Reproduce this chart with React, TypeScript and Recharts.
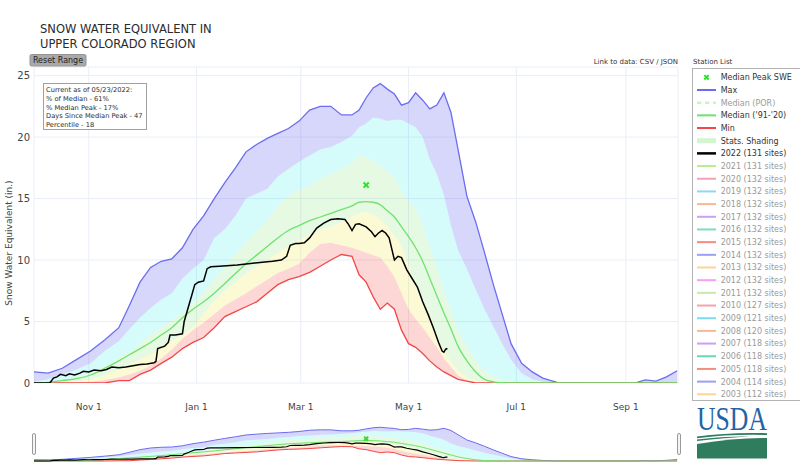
import React from 'react';
import { ComposedChart, Area, Line, Scatter, XAxis, YAxis, CartesianGrid } from 'recharts';

// day of water year (0 = Oct 1)
const days = [0, 8, 16, 24, 32, 40, 48, 54, 60, 66, 72, 78, 84, 90, 96, 102, 108, 114, 120, 126, 132, 138, 144, 150, 156, 162, 168, 174, 180, 184, 188, 192, 196, 200, 204, 208, 212, 216, 220, 224, 228, 232, 236, 240, 245, 250, 255, 260, 265, 270, 276, 282, 288, 296, 310, 325, 340, 346, 352, 358, 364];
const maxSwe = [0.9, 0.8, 1.2, 1.9, 2.6, 3.5, 4.5, 6.3, 8.2, 9.4, 9.9, 10.1, 11.0, 12.5, 13.6, 15.0, 16.3, 17.5, 18.8, 19.4, 19.9, 20.3, 20.7, 21.3, 22.2, 22.5, 22.5, 21.8, 21.8, 22.2, 23.2, 24.0, 24.35, 23.9, 23.5, 22.6, 22.8, 23.6, 23.0, 22.3, 22.6, 23.6, 22.0, 19.0, 15.2, 13.1, 10.6, 8.0, 5.6, 3.2, 1.6, 0.9, 0.4, 0.05, 0, 0, 0, 0.25, 0.15, 0.5, 1.0];
const p90 = [0.1, 0.3, 0.7, 1.1, 1.6, 2.6, 3.4, 4.4, 5.3, 6.1, 6.8, 7.3, 8.5, 9.3, 10.0, 11.8, 12.5, 13.6, 15.0, 15.4, 15.8, 16.8, 17.4, 18.0, 18.5, 19.0, 19.2, 19.6, 20.1, 20.8, 21.1, 21.6, 21.5, 21.3, 21.4, 21.4, 21.1, 20.8, 20.0, 18.2, 17.0, 15.3, 12.8, 10.8, 9.3, 7.6, 6.0, 4.6, 3.2, 1.9, 0.8, 0.3, 0.1, 0, 0, 0, 0, 0, 0, 0, 0];
const p70 = [0, 0.05, 0.2, 0.5, 0.8, 1.3, 2.0, 2.5, 3.2, 3.9, 4.5, 5.1, 5.7, 6.5, 7.4, 8.4, 9.5, 10.5, 11.4, 12.3, 13.2, 14.4, 15.2, 15.7, 16.0, 16.6, 17.0, 17.4, 17.9, 18.5, 18.4, 18.0, 17.7, 17.2, 16.7, 15.6, 14.8, 14.2, 12.8, 11.0, 9.4, 7.5, 5.9, 4.3, 3.0, 1.8, 1.0, 0.5, 0.25, 0.1, 0, 0, 0, 0, 0, 0, 0, 0, 0, 0, 0];
const medianSwe = [0, 0.05, 0.2, 0.35, 0.65, 1.2, 1.8, 2.3, 2.8, 3.3, 3.9, 4.5, 5.3, 6.0, 6.6, 7.3, 8.1, 8.9, 9.7, 10.4, 11.1, 11.8, 12.4, 12.8, 13.2, 13.5, 13.8, 14.1, 14.4, 14.7, 14.75, 14.7, 14.5, 14.0, 13.5, 12.7, 11.9, 11.0, 9.9, 8.5, 7.1, 5.7, 4.4, 3.0, 1.8, 0.9, 0.3, 0.1, 0.03, 0, 0, 0, 0, 0, 0, 0, 0, 0, 0, 0, 0];
const p30 = [0, 0, 0.05, 0.15, 0.3, 0.6, 1.1, 1.5, 1.9, 2.3, 2.9, 3.4, 3.9, 4.6, 5.6, 6.7, 7.5, 8.2, 8.9, 9.5, 10.0, 10.6, 11.1, 11.6, 12.1, 12.5, 12.7, 13.1, 13.5, 13.8, 13.9, 13.7, 13.3, 12.7, 12.0, 11.1, 9.6, 7.8, 6.6, 5.1, 3.8, 2.6, 1.7, 1.0, 0.4, 0.15, 0.05, 0, 0, 0, 0, 0, 0, 0, 0, 0, 0, 0, 0, 0, 0];
const p10 = [0, 0, 0, 0.02, 0.1, 0.25, 0.45, 0.7, 1.0, 1.4, 2.0, 2.7, 3.6, 4.3, 4.9, 5.6, 6.3, 6.8, 7.3, 7.85, 8.4, 8.95, 9.3, 9.7, 10.6, 11.3, 11.4, 11.2, 11.0, 10.8, 10.6, 10.4, 10.2, 9.5, 8.6, 7.3, 6.0, 5.2, 4.5, 3.7, 2.9, 2.0, 1.3, 0.6, 0.2, 0.05, 0, 0, 0, 0, 0, 0, 0, 0, 0, 0, 0, 0, 0, 0, 0];
const minSwe = [0, 0, 0, 0, 0, 0, 0.2, 0.2, 0.7, 1.05, 1.6, 2.1, 2.8, 3.3, 3.7, 4.5, 5.4, 5.8, 6.2, 6.6, 7.3, 8.0, 8.4, 8.65, 9.0, 9.5, 10.0, 10.45, 10.3, 8.8, 8.2, 7.0, 6.0, 6.5, 6.0, 4.3, 3.2, 2.9, 2.4, 1.8, 1.3, 0.9, 0.6, 0.3, 0.15, 0, 0, 0, 0, 0, 0, 0, 0, 0, 0, 0, 0, 0, 0, 0, 0];

const days2022 = [0, 9, 11, 13, 15, 18, 20, 23, 26, 28, 31, 34, 38, 41, 44, 48, 52, 56, 60, 64, 68, 69, 70, 74, 76, 77, 80, 84, 85, 87, 89, 91, 93, 96, 98, 100, 105, 115, 125, 135, 140, 143, 145, 148, 150, 153, 156, 160, 164, 168, 172, 176, 178, 180, 182, 184, 188, 191, 193, 195, 197, 199, 201, 203, 204, 206, 208, 211, 214, 217, 220, 223, 226, 229, 231, 232, 233, 234];
const swe2022 = [0, 0, 0.4, 0.5, 0.7, 0.6, 0.75, 0.65, 0.8, 0.95, 0.9, 1.05, 1.0, 1.1, 1.3, 1.25, 1.3, 1.4, 1.5, 1.55, 1.65, 1.75, 2.8, 3.0, 3.3, 3.9, 3.9, 4.0, 5.0, 6.0, 7.0, 8.0, 8.2, 8.3, 9.3, 9.45, 9.5, 9.6, 9.75, 9.9, 10.0, 10.3, 11.2, 11.35, 11.35, 11.4, 11.8, 12.6, 13.0, 13.3, 13.35, 13.3, 12.9, 12.4, 12.9, 12.95, 12.7, 12.3, 11.9, 12.2, 12.4, 12.2, 11.8, 10.6, 10.0, 10.3, 10.2, 9.2, 8.5, 7.8, 6.6, 5.6, 4.5, 3.3, 2.6, 2.5, 2.75, 2.8];

const peakDay = 188;
const peakSwe = 16.1;

const tickDays = [31, 92, 151, 212, 273, 335];
const tickLabels = ['Nov 1', 'Jan 1', 'Mar 1', 'May 1', 'Jul 1', 'Sep 1'];
const yTicks = [0, 5, 10, 15, 20, 25];

const infoLines = ['Current as of 05/23/2022:', '% of Median - 61%', '% Median Peak - 17%', 'Days Since Median Peak - 47', 'Percentile - 18'];

const legendNames = ['Median Peak SWE', 'Max', 'Median (POR)', "Median ('91-'20)", 'Min', 'Stats. Shading', '2022 (131 sites)', '2021 (131 sites)', '2020 (132 sites)', '2019 (132 sites)', '2018 (132 sites)', '2017 (132 sites)', '2016 (132 sites)', '2015 (132 sites)', '2014 (132 sites)', '2013 (132 sites)', '2012 (132 sites)', '2011 (132 sites)', '2010 (127 sites)', '2009 (121 sites)', '2008 (120 sites)', '2007 (118 sites)', '2006 (118 sites)', '2005 (118 sites)', '2004 (114 sites)', '2003 (112 sites)'];
const legendColors = ['#2ee02e', '#6c6cf0', '#bff0bf', '#6ce36c', '#f04848', '#d3f5cf', '#000000', '#b8ec8c', '#f5a0b4', '#8ed8f5', '#f9b894', '#c9a0f2', '#7fdcc0', '#f48c80', '#9ca0f2', '#fcd590', '#f5a0f5', '#c8eaa8', '#f7a0b0', '#78dcf5', '#f9b894', '#c9a0f2', '#66d9ae', '#f48c80', '#9ca0f2', '#fcd590'];
const legendKinds = ['marker', 'line', 'dash', 'line', 'line', 'band', 'bold', 'line', 'line', 'line', 'line', 'line', 'line', 'line', 'line', 'line', 'line', 'line', 'line', 'line', 'line', 'line', 'line', 'line', 'line', 'line'];
const legendActive = [true, true, false, true, true, true, true, false, false, false, false, false, false, false, false, false, false, false, false, false, false, false, false, false, false, false];

const stats = days.map((day, i) => ({
  day,
  max: maxSwe[i],
  p90: p90[i],
  p70: p70[i],
  median: medianSwe[i],
  p30: p30[i],
  p10: p10[i],
  min: minSwe[i],
}));
const current = days2022.map((day, i) => ({ day, swe: swe2022[i] }));
const peak = [{ day: peakDay, swe: peakSwe }];

const FONT = '"DejaVu Sans", Verdana, sans-serif';

const CrossMark = (props: any) => {
  const { cx, cy } = props;
  const s = props.size || 2.6;
  return (
    <path
      d={`M${cx - s},${cy - s}L${cx + s},${cy + s}M${cx - s},${cy + s}L${cx + s},${cy - s}`}
      stroke="#2ee02e"
      strokeWidth={2}
      fill="none"
    />
  );
};

const series = (mini: boolean) => {
  const w = mini ? 1 : 1.3;
  return [
    <Area key="b5" dataKey={(d: any) => [d.p90, d.max]} type="linear" stroke="none" fill="rgba(100,100,240,0.26)" fillOpacity={1} isAnimationActive={false} />,
    <Area key="b4" dataKey={(d: any) => [d.p70, d.p90]} type="linear" stroke="none" fill="rgba(0,230,230,0.16)" fillOpacity={1} isAnimationActive={false} />,
    <Area key="b3" dataKey={(d: any) => [d.p30, d.p70]} type="linear" stroke="none" fill="rgba(60,220,40,0.13)" fillOpacity={1} isAnimationActive={false} />,
    <Area key="b2" dataKey={(d: any) => [d.p10, d.p30]} type="linear" stroke="none" fill="rgba(240,230,40,0.2)" fillOpacity={1} isAnimationActive={false} />,
    <Area key="b1" dataKey={(d: any) => [d.min, d.p10]} type="linear" stroke="none" fill="rgba(245,50,50,0.2)" fillOpacity={1} isAnimationActive={false} />,
    <Line key="max" dataKey="max" type="linear" stroke="#6c6cf0" strokeWidth={w} dot={false} isAnimationActive={false} />,
    <Line key="min" dataKey="min" type="linear" stroke="#f04848" strokeWidth={w} dot={false} isAnimationActive={false} />,
    <Line key="median" dataKey="median" type="monotone" stroke="#6ce36c" strokeWidth={w} dot={false} isAnimationActive={false} />,
    <Line key="y2022" data={current} dataKey="swe" type="linear" stroke="#000" strokeWidth={mini ? 1.2 : 1.5} dot={false} isAnimationActive={false} />,
    <Scatter key="peak" data={peak} dataKey="swe" shape={(p: any) => <CrossMark {...p} size={mini ? 2 : 2.6} />} isAnimationActive={false} />,
  ];
};

const Legend = () => (
  <g fontFamily={FONT} fontSize={8}>
    <rect x={692.5} y={68.5} width={130} height={332} fill="#fff" stroke="#b4b4b4" />
    {legendNames.map((name, i) => {
      const cy = 77.3 + i * 12.68;
      const kind = legendKinds[i];
      const color = legendColors[i];
      let sym: React.ReactNode;
      if (kind === 'marker') sym = <CrossMark cx={706.5} cy={cy} size={2.2} />;
      else if (kind === 'dash') sym = <line x1={697} x2={716} y1={cy} y2={cy} stroke={color} strokeWidth={2} strokeDasharray="4,4" />;
      else if (kind === 'band') sym = <line x1={697} x2={716} y1={cy} y2={cy} stroke={color} strokeWidth={5} />;
      else sym = <line x1={697} x2={716} y1={cy} y2={cy} stroke={color} strokeWidth={kind === 'bold' ? 2.5 : 2} />;
      return (
        <g key={name}>
          {sym}
          <text x={720.7} y={cy + 2.9} fill={legendActive[i] ? '#333' : '#9a9a9a'}>{name}</text>
        </g>
      );
    })}
  </g>
);

const Decorations = () => (
  <svg width={800} height={467} style={{ position: 'absolute', left: 0, top: 0, pointerEvents: 'none' }}>
    <g fontFamily={FONT} fill="#2b2b2b" fontSize={11.5}>
      <text x={40} y={33.3}>SNOW WATER EQUIVALENT IN</text>
      <text x={40} y={48.3}>UPPER COLORADO REGION</text>
    </g>
    <text transform="translate(11.5,243) rotate(-90)" textAnchor="middle" fontFamily={FONT} fontSize={9} fill="#444">Snow Water Equivalent (in.)</text>
    <rect x={30} y={54.5} width={56} height={11.5} rx={1.5} fill="#a9a9a9" stroke="#949494" />
    <text x={58} y={63.2} textAnchor="middle" fontFamily={FONT} fontSize={8} fill="#1e1e1e">Reset Range</text>
    <text x={678} y={64} textAnchor="end" fontFamily={FONT} fontSize={7} fill="#333">Link to data: CSV / JSON</text>
    <text x={693} y={64} fontFamily={FONT} fontSize={7} fill="#333">Station List</text>
    <rect x={43.5} y={83.5} width={103} height={46} fill="#fff" stroke="#a0a0a0" />
    <g fontFamily={FONT} fontSize={6.7} fill="#2b2b2b">
      {infoLines.map((t, i) => (
        <text key={t} x={46} y={92.3 + i * 8.6}>{t}</text>
      ))}
    </g>
    <Legend />
    {/* range slider handles */}
    <rect x={32.5} y={433.5} width={3} height={21} rx={1.5} fill="#f4f4f4" stroke="#9a9a9a" />
    <rect x={677.5} y={433.5} width={3} height={21} rx={1.5} fill="#f4f4f4" stroke="#9a9a9a" />
    {/* USDA logo */}
    <text x={697} y={430} fontFamily='"Liberation Serif", serif' fontSize={33} fill="#2563a5" textLength={70} lengthAdjust="spacingAndGlyphs">USDA</text>
    <path d="M697,436.5 Q730,432 767,433.2 L767,435 Q730,434 697,438.2 Z" fill="#2f7d5e" />
    <path d="M697,439.5 Q725,436 750,436.5 Q725,437.5 697,441 Z" fill="#2f7d5e" />
    <path d="M697,444 Q735,437.5 767,438 L767,458.5 L697,458.5 Z" fill="#2f7d5e" />
  </svg>
);

const App = () => (
  <div style={{ position: 'absolute', left: 0, top: 0, width: 800, height: 467, background: '#fff', fontFamily: FONT }}>
    <ComposedChart width={800} height={467} data={stats} margin={{ top: 67, right: 122, bottom: 54, left: 8 }}>
      <CartesianGrid stroke="#e9eef7" strokeWidth={1} />
      <XAxis
        dataKey="day"
        type="number"
        domain={[0, 364.5]}
        ticks={tickDays}
        tickFormatter={(v: number) => tickLabels[tickDays.indexOf(v)]}
        axisLine={false}
        tickLine={false}
        tickSize={0}
        tickMargin={21}
        height={30}
        allowDataOverflow
        tick={{ fontSize: 9, fill: '#444', fontFamily: FONT }}
      />
      <YAxis
        type="number"
        domain={[0, 25.7]}
        ticks={yTicks}
        axisLine={false}
        tickLine={false}
        tickSize={0}
        tickMargin={4}
        width={26}
        allowDataOverflow
        tick={{ fontSize: 10, fill: '#444', fontFamily: FONT }}
      />
      {series(false)}
    </ComposedChart>
    <div style={{ position: 'absolute', left: 0, top: 418 }}>
      <ComposedChart width={800} height={49} data={stats} margin={{ top: 7, right: 122, bottom: 6, left: 34 }}>
        <XAxis dataKey="day" type="number" domain={[0, 364.5]} hide />
        <YAxis type="number" domain={[0, 26]} hide />
        {series(true)}
      </ComposedChart>
    </div>
    <Decorations />
  </div>
);

export default App;
